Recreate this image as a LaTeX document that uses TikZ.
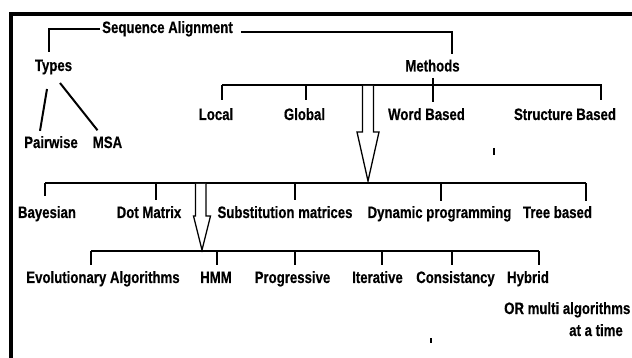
\documentclass[tikz,border=0pt]{standalone}
\usepackage{fontspec}
\setmainfont{Liberation Sans}[FakeStretch=0.8,FakeBold=0.4]
\tikzset{
  lbl/.style={anchor=base,inner sep=0pt,font=\fontsize{16.5}{19}\selectfont\bfseries},
  link/.style={line width=2pt},
  bus/.style={line width=2.6pt},
  hollow/.style={line width=1.3pt,fill=white,line join=miter}
}
\begin{document}
\begin{tikzpicture}[x=1pt,y=-1pt]
            \useasboundingbox (0,0) rectangle (632,358);
            \draw[line width=4pt] (11,358) -- (11,14) -- (632,14);
            \node[lbl] (seq) at (167.5,33) {Sequence Alignment};
            \node[lbl] (types) at (53.5,71) {Types};
            \node[lbl] (pairwise) at (51,148) {Pairwise};
            \node[lbl] (msa) at (107.5,148) {MSA};
            \node[lbl] (methods) at (432.5,71.5) {Methods};
            \node[lbl] (local) at (216,120) {Local};
            \node[lbl] (global) at (304.5,120) {Global};
            \node[lbl] (word) at (426.5,120) {Word Based};
            \node[lbl] (structure) at (565,120) {Structure Based};
            \node[lbl] (bayesian) at (47,218) {Bayesian};
            \node[lbl] (dotmatrix) at (149,218) {Dot Matrix};
            \node[lbl] (subst) at (285,218) {Substitution matrices};
            \node[lbl] (dynamic) at (439.5,218) {Dynamic programming};
            \node[lbl] (tree) at (557.5,218) {Tree based};
            \node[lbl] (evol) at (103,283) {Evolutionary Algorithms};
            \node[lbl] (hmm) at (216,283) {HMM};
            \node[lbl] (prog) at (292.5,283) {Progressive};
            \node[lbl] (iter) at (377.5,283) {Iterative};
            \node[lbl] (cons) at (455.5,283) {Consistancy};
            \node[lbl] (hybrid) at (528,283) {Hybrid};
            \node[lbl,anchor=base west] (ormulti) at (504,314) {OR multi algorithms};
            \node[lbl,anchor=base east] (atatime) at (623,336) {at a time};
            \coordinate (mA) at (222,85);
            \coordinate (mB) at (602,85);
            \coordinate (dA) at (45,183);
            \coordinate (dB) at (586,183);
            \coordinate (eA) at (91,251);
            \coordinate (eB) at (539,251);
            \draw[link] (49,52) |- ([xshift=-2]seq.west);
            \draw[link] ([xshift=8,yshift=1]seq.base east) -| (452,54);
            \draw[link] (47,89) -- ([xshift=-11,yshift=5]pairwise.north);
            \draw[link] (60,83) -- ([xshift=-10,yshift=6]msa.north);
            \draw[bus] (mA) -- (mB);
            \foreach \x in {222,306,601}
              \draw[link] (\x,85) -- (\x,100);
            \draw[link] (433,78) -- (433,102);
            \draw[bus] (dA) -- (dB);
            \foreach \x/\y in {45/196,156/200,295/200,441/201,586/201}
              \draw[link] (\x,183) -- (\x,\y);
            \draw[bus] (eA) -- (eB);
            \foreach \x in {91,217,295,382,452,539}
              \draw[link] (\x,251) -- (\x,265);
            \draw[hollow] (362.5,86) -- (362.5,132) -- (357,132) -- (368,181)
              -- (379,132) -- (373.5,132) -- (373.5,86);
            \draw[hollow] (195.5,184) -- (195.5,216) -- (193.5,216) -- (202,250)
              -- (210.5,216) -- (206,216) -- (206,184);
            \draw[line width=2pt] (494,148) -- (494,155);
            \draw[line width=2pt] (431,338) -- (431,343);
\end{tikzpicture}
\end{document}
